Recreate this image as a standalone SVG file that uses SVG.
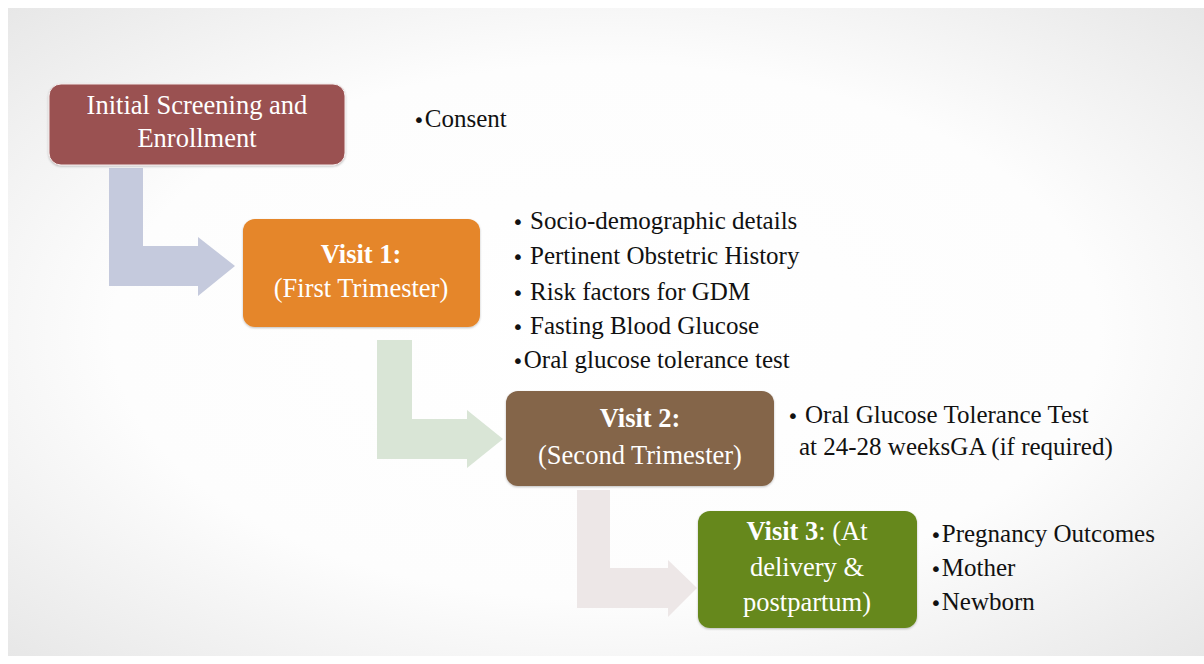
<svg xmlns="http://www.w3.org/2000/svg" width="1204" height="664" viewBox="0 0 1204 664">
<defs>
<radialGradient id="bg" cx="0.5" cy="0.5" r="0.75">
<stop offset="0" stop-color="#ffffff"/>
<stop offset="0.55" stop-color="#fdfdfd"/>
<stop offset="1" stop-color="#e4e4e4"/>
</radialGradient>
<filter id="sh" x="-5%" y="-5%" width="110%" height="115%">
<feDropShadow dx="0" dy="1" stdDeviation="1" flood-color="#000" flood-opacity="0.25"/>
</filter>
</defs>
<style>
.nt{font-family:"Liberation Serif","DejaVu Serif",serif;font-size:26.5px;fill:#ffffff;text-anchor:middle}
.b{font-weight:bold}
.bl{font-family:"Liberation Serif","DejaVu Serif",serif;font-size:25px;fill:#111111}
.d{font-family:"DejaVu Sans",sans-serif;font-size:20px}
.box{filter:url(#sh)}
</style>
<rect x="0" y="0" width="1204" height="664" fill="#ffffff"/>
<rect x="8" y="8" width="1196" height="648" fill="url(#bg)"/>
<g id="connectors">
<path d="M109,168 H143 V246 H198 V237 L235,266 L198,296 V286 H109 Z" fill="#c5cadd"/>
<path d="M377,340 H412 V419 H467 V410 L503,439 L467,468 V459 H377 Z" fill="#d9e5d6"/>
<path d="M577,490 H610 V568 H668 V560 L697,588 L668,617 V608 H577 Z" fill="#ede7e7"/>
</g>
<g id="node-initial">
<rect class="box" x="49" y="84" width="296" height="81" rx="12" fill="#9a5151" stroke="#f4eaea" stroke-width="1"/>
<text class="nt" x="197" y="114">Initial Screening and</text>
<text class="nt" x="197" y="147">Enrollment</text>
</g>
<g id="note-initial">
<text class="bl" x="413" y="127"><tspan class="d">•</tspan>Consent</text>
</g>
<g id="node-visit1">
<rect class="box" x="243" y="219" width="237" height="108" rx="12" fill="#e5862a"/>
<text class="nt b" x="361" y="263">Visit 1:</text>
<text class="nt" x="361" y="297">(First Trimester)</text>
</g>
<g id="note-visit1">
<text class="bl" x="512" y="229"><tspan class="d">•</tspan> Socio-demographic details</text>
<text class="bl" x="512" y="264"><tspan class="d">•</tspan> Pertinent Obstetric History</text>
<text class="bl" x="512" y="300"><tspan class="d">•</tspan> Risk factors for GDM</text>
<text class="bl" x="512" y="334"><tspan class="d">•</tspan> Fasting Blood Glucose</text>
<text class="bl" x="512" y="368"><tspan class="d">•</tspan>Oral glucose tolerance test</text>
</g>
<g id="node-visit2">
<rect class="box" x="506" y="391" width="268" height="95" rx="12" fill="#84654a"/>
<text class="nt b" x="640" y="427">Visit 2:</text>
<text class="nt" x="640" y="464">(Second Trimester)</text>
</g>
<g id="note-visit2">
<text class="bl" x="787" y="423"><tspan class="d">•</tspan> Oral Glucose Tolerance Test</text>
<text class="bl" x="799" y="455">at 24-28 weeksGA (if required)</text>
</g>
<g id="node-visit3">
<rect class="box" x="698" y="511" width="219" height="117" rx="12" fill="#66881f"/>
<text class="nt" x="807" y="540"><tspan class="b">Visit 3</tspan>: (At</text>
<text class="nt" x="807" y="576">delivery &amp;</text>
<text class="nt" x="807" y="611">postpartum)</text>
</g>
<g id="note-visit3">
<text class="bl" x="930" y="542"><tspan class="d">•</tspan>Pregnancy Outcomes</text>
<text class="bl" x="930" y="576"><tspan class="d">•</tspan>Mother</text>
<text class="bl" x="930" y="610"><tspan class="d">•</tspan>Newborn</text>
</g>
</svg>
